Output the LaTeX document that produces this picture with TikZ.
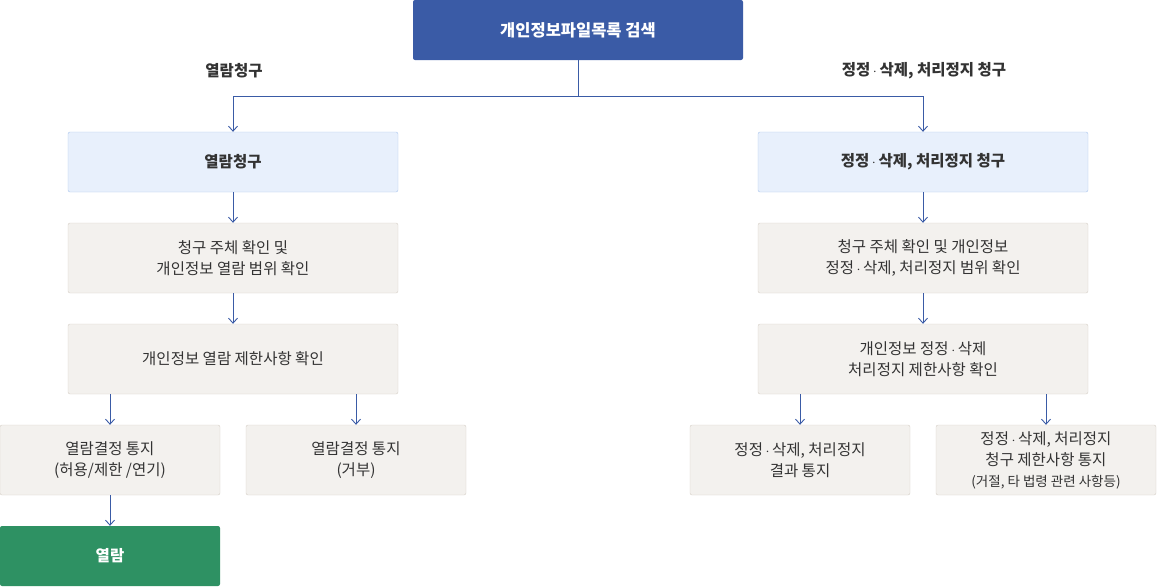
\documentclass[tikz,border=0pt]{standalone}
\usepackage{fontspec}
\setmainfont{Noto Sans CJK KR}
\usetikzlibrary{arrows.meta}
\definecolor{topblue}{HTML}{3A5BA6}
\definecolor{lineblue}{HTML}{3A5BA6}
\definecolor{reqfill}{HTML}{E8F0FC}
\definecolor{reqline}{HTML}{A9C4EC}
\definecolor{stepfill}{HTML}{F3F1EE}
\definecolor{stepline}{HTML}{D6CEC6}
\definecolor{okgreen}{HTML}{2E9163}
\definecolor{txt}{HTML}{333333}
\newcommand{\md}{\,$\cdot$\,}
\tikzset{
	box/.style={rectangle,rounded corners=2pt,inner sep=0pt,align=center,font=\fontsize{15.5}{21}\selectfont,text=txt},
	reqbox/.style={box,draw=reqline,fill=reqfill,minimum width=330pt,minimum height=60pt,font=\fontsize{15.5}{21}\selectfont\bfseries},
	stepbox/.style={box,draw=stepline,fill=stepfill,minimum width=330pt,minimum height=70pt},
	smallbox/.style={box,draw=stepline,fill=stepfill,minimum width=220pt,minimum height=70pt},
	flow/.style={draw=lineblue,line width=0.9pt,-{Straight Barb[length=5pt,width=9pt]}}
}
\begin{document}
\begin{tikzpicture}[x=1pt,y=-1pt]
	\useasboundingbox (0,0) rectangle (1157,587);
	
	%top
	\node[box,fill=topblue,minimum width=330pt,minimum height=60pt,text=white,font=\fontsize{16.5}{21}\selectfont\bfseries] (search) at (578,30) {개인정보파일목록 검색};
	\node[font=\fontsize{15.5}{21}\selectfont\bfseries,text=txt] (lhead) at (234,71) {열람청구};
	\node[font=\fontsize{15.5}{21}\selectfont\bfseries,text=txt] (rhead) at (924,71) {정정\md 삭제, 처리정지 청구};
	\coordinate (split) at (578,96);
	
	%left side
	\node[reqbox] (lreq) at (233,162) {열람청구};
	\node[stepbox] (lcheck) at (233,258) {청구 주체 확인 및\\개인정보 열람 범위 확인};
	\node[stepbox] (llimit) at (233,359) {개인정보 열람 제한사항 확인};
	\node[smallbox] (lok) at (110,460) {열람결정 통지\\(허용/제한 /연기)};
	\node[smallbox] (lno) at (356,460) {열람결정 통지\\(거부)};
	\node[box,fill=okgreen,minimum width=220pt,minimum height=60pt,text=white,font=\fontsize{15.5}{21}\selectfont\bfseries] (view) at (110,556) {열람};
	
	%right side
	\node[reqbox] (rreq) at (923,162) {정정\md 삭제, 처리정지 청구};
	\node[stepbox] (rcheck) at (923,258) {청구 주체 확인 및 개인정보\\정정\md 삭제, 처리정지 범위 확인};
	\node[stepbox] (rlimit) at (923,359) {개인정보 정정\md 삭제\\처리정지 제한사항 확인};
	\node[smallbox] (rres) at (800,460) {정정\md 삭제, 처리정지\\결과 통지};
	\node[smallbox] (rno) at (1046,460) {정정\md 삭제, 처리정지\\청구 제한사항 통지\\{\fontsize{13.5}{17}\selectfont(거절, 타 법령 관련 사항등)}};
	
	%connectors
	\draw[draw=lineblue,line width=0.9pt] (search.south) -- (split);
	\draw[flow] (split) -| (lreq.north);
	\draw[flow] (split) -| (rreq.north);
	\draw[flow] (lreq) -- (lcheck);
	\draw[flow] (lcheck) -- (llimit);
	\draw[flow] (lok) -- (view);
	\draw[flow] (rreq) -- (rcheck);
	\draw[flow] (rcheck) -- (rlimit);
	\foreach \src/\dst in {llimit/lok,llimit/lno,rlimit/rres,rlimit/rno}
		\draw[flow] (\dst.north |- \src.south) -- (\dst.north);
\end{tikzpicture}
\end{document}
